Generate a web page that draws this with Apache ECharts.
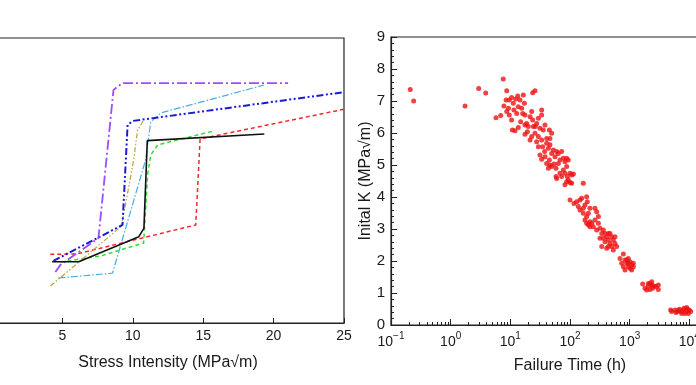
<!DOCTYPE html>
<html><head><meta charset="utf-8">
<script src="https://cdn.jsdelivr.net/npm/echarts@6/dist/echarts.min.js"></script>
<style>html,body{margin:0;padding:0;background:#fff}#c{width:696px;height:385px}</style>
</head><body><div id="c"></div>
<script>
// ---- Left chart: curves (x = stress intensity, y = arbitrary vertical units 0..10)
const leftXTicks = [5, 10, 15, 20, 25];
const curveBlack  = [[4.27,2.15],[6.16,2.15],[10.43,3.03],[10.79,3.32],[11.03,6.40],[19.34,6.63]];
const curveRed    = [[4.14,2.41],[6.0,2.42],[14.47,3.44],[14.78,6.46],[25.0,7.50]];
const curveGreen  = [[4.86,2.14],[7.71,2.35],[10.77,2.81],[11.05,5.19],[11.27,5.89],[11.77,6.25],[15.76,6.74]];
const curveOlive  = [[4.15,1.30],[9.20,3.40],[10.06,5.72],[10.34,6.77],[10.77,7.12]];
const curveSky    = [[4.72,1.58],[8.56,1.75],[10.91,5.72],[11.27,7.05],[11.98,7.37],[19.32,8.35]];
const curveBlue   = [[4.36,2.18],[9.27,3.44],[9.63,6.95],[9.99,7.09],[25.0,8.10]];
const curvePurple = [[4.50,1.79],[4.86,2.04],[7.56,2.98],[8.63,8.18],[9.27,8.42],[21.03,8.42]];

// ---- Right chart: failure time (h) vs initial K
const failureTime = [
0.21,0.24,1.74,2.95,3.87,5.75,6.9,7.6,
8.7,8.5,7.8,9.3,9.6,10.5,11.2,12.3,13.3,8.7,9.6,10.5,11.5,12.8,13.6,14.5,15.5,16.5,17.2,17.6,18.8,10.8,12.0,13.6,14.9,16.1,17.6,19.3,21.4,22.8,23.7,24.3,25.9,21.4,22.8,17.6,20.0,26.2,27.6,29.5,23.7,25.9,33.5,33.5,31.4,29.5,33.5,35.7,38.1,40.6,27.6,29.5,34.8,37.6,40.6,43.4,46.2,49.3,45.1,46.2,
31.4,33.5,38.1,40.6,45.1,46.2,49.3,52.6,56.1,59.8,63.7,68.0,43.4,49.3,54.0,58.3,63.7,72.5,77.3,82.4,87.9,93.8,58.3,59.8,68.0,72.5,77.3,82.4,87.9,90.2,100,106.7,113.8,87.9,82.4,100,93.8,106.7,
100,116.7,129.4,147,157,167,138,147,167,178,190,195,167,190,203,216,178,190,203,216,231,246,
262,280,299,216,280,318,340,362,318,340,386,412,439,468,499,532,568,468,439,412,499,532,386,362,568,605,439,299,262,
783,689,735,836,891,950,1013,1081,1152,783,836,950,1013,1081,1152,891,950,
1652,1807,1928,2056,2193,2339,2429,2557,2762,3021,3021,2193,2056,2339,
4864,5058,5754,6295,6797,7161,7733,8145,8797,9252,9621,10000,10530,8459,7447,6546,5980,9020
];
const initialK = [
7.36,7.00,6.84,7.39,7.25,6.48,6.55,7.69,
7.32,7.03,6.84,6.77,7.03,7.11,6.93,7.06,7.16,6.67,6.56,6.41,6.72,6.61,6.82,7.03,6.77,7.19,6.93,6.56,6.30,6.09,6.07,6.17,6.35,6.61,6.25,6.04,6.51,6.67,6.41,6.20,5.99,5.78,5.89,5.96,6.20,6.20,6.30,6.46,7.26,7.32,6.72,6.56,6.15,5.89,5.78,6.09,6.25,5.83,5.73,5.57,5.57,5.42,5.68,5.52,5.63,5.99,6.09,5.83,
5.31,5.18,5.26,5.05,5.16,5.00,5.36,5.47,5.26,5.42,5.36,5.16,4.90,4.95,5.03,4.90,5.05,5.42,5.21,5.10,5.21,5.16,4.64,4.58,4.74,4.64,4.84,4.74,4.95,4.64,4.74,4.69,4.72,4.48,4.38,4.45,4.53,4.43,
3.91,3.80,3.85,3.91,3.96,4.43,3.70,3.59,3.65,3.75,4.01,3.85,3.49,3.39,3.49,3.65,3.28,3.18,3.13,3.23,3.18,3.07,
3.65,3.54,3.39,3.07,2.97,3.02,2.86,2.97,2.71,2.45,2.86,2.76,2.66,2.86,2.76,2.66,2.76,2.55,2.45,2.40,2.45,2.34,2.60,2.71,2.55,2.45,2.86,3.18,3.28,
2.22,2.08,1.93,2.03,1.93,2.08,1.98,1.88,1.93,1.82,1.72,1.82,1.77,1.72,1.82,2.03,1.93,
1.28,1.15,1.09,1.22,1.30,1.25,1.15,1.22,1.20,1.11,1.25,1.11,1.30,1.35,
0.47,0.42,0.47,0.42,0.49,0.42,0.47,0.52,0.42,0.49,0.36,0.47,0.42,0.36,0.36,0.45,0.39,0.55
];
const rightYTicks = [0,1,2,3,4,5,6,7,8,9];
const logDecades = [-1,0,1,2,3,4,5];

const scatterData = failureTime.map((t, i) => [t, initialK[i]]);
// minor tick positions on the log axis (2..9 × 10^k), expressed in exponent space
const minorLogTicks = [];
logDecades.slice(0, -1).forEach(d => { for (let m = 2; m <= 9; m++) minorLogTicks.push(d + Math.log10(m)); });

const FONT = 'Liberation Sans, Arial, sans-serif';
const TXT = '#1a1a1a';
const AX = '#222';

function lineSeries(data, color, type, width) {
  return { type: 'line', xAxisIndex: 0, yAxisIndex: 0, data: data, symbol: 'none', silent: true,
    lineStyle: { color: color, width: width, type: type }, animation: false };
}

const chart = echarts.init(document.getElementById('c'), null, { renderer: 'canvas' });
chart.setOption({
  animation: false,
  backgroundColor: '#fff',
  textStyle: { fontFamily: FONT, color: TXT },
  grid: [
    { left: -8, top: 38, right: 352, bottom: 62, show: true, borderColor: AX, borderWidth: 1.2,
      backgroundColor: 'transparent', containLabel: false, outerBoundsMode: 'none' },
    { left: 391, top: 37, right: -53, bottom: 60, show: true, borderColor: AX, borderWidth: 1.2,
      backgroundColor: 'transparent', containLabel: false, outerBoundsMode: 'none' }
  ],
  xAxis: [
    { type: 'value', gridIndex: 0, min: 0, max: 25, interval: 5,
      name: 'Stress Intensity (MPa√m)', nameLocation: 'middle', nameGap: 32,
      nameTextStyle: { fontSize: 16, color: TXT, fontFamily: FONT },
      axisLine: { show: true, onZero: false, lineStyle: { color: AX, width: 1.2 } },
      axisTick: { show: true, inside: true, length: 5, lineStyle: { color: AX } },
      axisLabel: { fontSize: 14, color: TXT, margin: 6, fontFamily: FONT,
        formatter: v => (leftXTicks.indexOf(v) >= 0 ? String(v) : '') },
      splitLine: { show: false } },
    { type: 'log', gridIndex: 1, logBase: 10, min: 0.1, max: 100000,
      name: 'Failure Time (h)', nameLocation: 'middle', nameGap: 33,
      nameTextStyle: { fontSize: 16, color: TXT, fontFamily: FONT },
      axisLine: { show: true, onZero: false, lineStyle: { color: AX, width: 1.2 } },
      axisTick: { show: true, inside: true, length: 6, lineStyle: { color: AX } },
      axisLabel: { margin: 6, fontFamily: FONT, color: TXT,
        formatter: v => { const e = Math.round(Math.log10(v)); return '{b|10}{s|' + (e < 0 ? '\u2212' + (-e) : e) + '}'; },
        rich: { b: { fontSize: 14, color: TXT, fontFamily: FONT, lineHeight: 18, verticalAlign: 'bottom' },
                s: { fontSize: 10, color: TXT, fontFamily: FONT, lineHeight: 18, verticalAlign: 'top' } } },
      splitLine: { show: false } },
    { type: 'value', gridIndex: 1, min: -1, max: 5, position: 'bottom',
      axisLine: { show: false, onZero: false },
      axisTick: { show: true, inside: true, length: 3, customValues: minorLogTicks, lineStyle: { color: AX } },
      axisLabel: { show: false }, splitLine: { show: false } }
  ],
  yAxis: [
    { type: 'value', gridIndex: 0, min: 0, max: 10,
      axisLine: { show: false, onZero: false }, axisTick: { show: false }, axisLabel: { show: false }, splitLine: { show: false } },
    { type: 'value', gridIndex: 1, min: 0, max: 9, interval: 1,
      name: 'Inital K (MPa√m)', nameLocation: 'middle', nameGap: 17, nameMoveOverlap: false,
      nameTextStyle: { fontSize: 16, color: TXT, fontFamily: FONT },
      axisLine: { show: true, onZero: false, lineStyle: { color: AX, width: 1.2 } },
      axisTick: { show: true, inside: true, length: 6, lineStyle: { color: AX } },
      minorTick: { show: true, splitNumber: 5, length: 3, lineStyle: { color: AX } },
      axisLabel: { fontSize: 15, color: TXT, margin: 6, fontFamily: FONT,
        formatter: v => (rightYTicks.indexOf(v) >= 0 ? String(v) : '') },
      splitLine: { show: false } }
  ],
  series: [
    lineSeries(curveRed, '#ee2a2a', [4, 3], 1.5),
    lineSeries(curveGreen, '#33dd33', [4, 3], 1.5),
    lineSeries(curveOlive, '#b9a33a', [5, 2, 1.5, 2, 1.5, 2], 1.2),
    lineSeries(curveSky, '#4aaee0', [7, 2, 1.5, 2], 1.2),
    lineSeries(curveBlue, '#1a1ad8', [7, 2.5, 2, 2.5, 2, 2.5], 2),
    lineSeries(curvePurple, '#9b4dff', [10, 3, 2, 3], 1.8),
    lineSeries(curveBlack, '#111111', 'solid', 1.6),
    { type: 'scatter', xAxisIndex: 1, yAxisIndex: 1, data: scatterData, symbol: 'circle', symbolSize: 5,
      itemStyle: { color: '#ee1111' }, silent: true, animation: false }
  ]
});
</script></body></html>
